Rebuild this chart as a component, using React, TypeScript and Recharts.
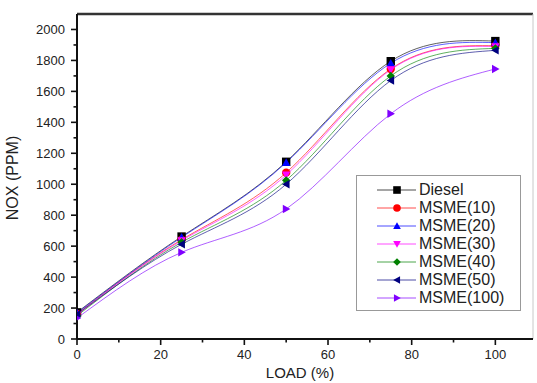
import React from "react";
import { LineChart, Line, XAxis, YAxis, ReferenceLine } from "recharts";

const loads = [0, 25, 50, 75, 100];
const diesel = [172, 662, 1145, 1795, 1925];
const msme10 = [162, 642, 1075, 1745, 1895];
const msme20 = [168, 657, 1140, 1782, 1915];
const msme30 = [156, 636, 1060, 1740, 1890];
const msme40 = [150, 625, 1025, 1700, 1878];
const msme50 = [160, 612, 1000, 1670, 1865];
const msme100 = [135, 560, 840, 1455, 1745];

const seriesNames = ["Diesel", "MSME(10)", "MSME(20)", "MSME(30)", "MSME(40)", "MSME(50)", "MSME(100)"];
const seriesValues = [diesel, msme10, msme20, msme30, msme40, msme50, msme100];
const seriesColors = ["#000000", "#FF0000", "#0000FF", "#FF00FF", "#008000", "#000080", "#8000FF"];
const seriesShapes = ["square", "circle", "up", "down", "diamond", "left", "right"];

const xTicks = [0, 10, 20, 30, 40, 50, 60, 70, 80, 90, 100];
const yTicks = [0, 100, 200, 300, 400, 500, 600, 700, 800, 900, 1000, 1100, 1200, 1300, 1400, 1500, 1600, 1700, 1800, 1900, 2000];

const data = loads.map((l, i) => {
  const row: any = { load: l };
  seriesNames.forEach((n, k) => {
    row[n] = seriesValues[k][i];
  });
  return row;
});

const FONT = "'Liberation Sans', Arial, sans-serif";

function Marker({ shape, cx, cy, color, s = 4.5 }: any) {
  switch (shape) {
    case "square":
      return <rect x={cx - s} y={cy - s} width={2 * s} height={2 * s} fill={color} />;
    case "circle":
      return <circle cx={cx} cy={cy} r={s} fill={color} />;
    case "up":
      return <polygon points={`${cx},${cy - s} ${cx + s},${cy + s * 0.8} ${cx - s},${cy + s * 0.8}`} fill={color} />;
    case "down":
      return <polygon points={`${cx},${cy + s} ${cx + s},${cy - s * 0.8} ${cx - s},${cy - s * 0.8}`} fill={color} />;
    case "diamond":
      return <polygon points={`${cx},${cy - s} ${cx + s},${cy} ${cx},${cy + s} ${cx - s},${cy}`} fill={color} />;
    case "left":
      return <polygon points={`${cx - s},${cy} ${cx + s * 0.8},${cy - s} ${cx + s * 0.8},${cy + s}`} fill={color} />;
    case "right":
      return <polygon points={`${cx + s},${cy} ${cx - s * 0.8},${cy - s} ${cx - s * 0.8},${cy + s}`} fill={color} />;
    default:
      return null;
  }
}

const XTick = (props: any) => {
  const { x, y, payload } = props;
  const major = payload.value % 20 === 0;
  return (
    <g>
      <line x1={x} x2={x} y1={y} y2={y + (major ? 6 : 3.5)} stroke="#111" strokeWidth={1.6} />
      {major && (
        <text x={x} y={y + 20} textAnchor="middle" fontSize={13} fontFamily={FONT} fill="#222">
          {payload.value}
        </text>
      )}
    </g>
  );
};

const YTick = (props: any) => {
  const { x, y, payload } = props;
  const major = payload.value % 200 === 0;
  return (
    <g>
      <line x1={x} x2={x - (major ? 6 : 3.5)} y1={y} y2={y} stroke="#111" strokeWidth={1.6} />
      {major && (
        <text x={x - 12} y={y + 4.5} textAnchor="end" fontSize={13} fontFamily={FONT} fill="#222">
          {payload.value}
        </text>
      )}
    </g>
  );
};

export default function App() {
  return (
    <div style={{ position: "absolute", left: 0, top: 0, width: 537, height: 383, background: "#fff" }}>
      <LineChart width={537} height={383} data={data} margin={{ top: 14, right: 4, bottom: 0, left: 0 }}>
        <XAxis
          dataKey="load"
          type="number"
          domain={[0, 109]}
          ticks={xTicks}
          interval={0}
          tickSize={0}
          tickMargin={0}
          tickLine={false}
          tick={<XTick />}
          axisLine={{ stroke: "#111", strokeWidth: 2 }}
          height={44}
          allowDataOverflow
        />
        <YAxis
          type="number"
          domain={[0, 2100]}
          ticks={yTicks}
          interval={0}
          tickSize={0}
          tickMargin={0}
          tickLine={false}
          tick={<YTick />}
          axisLine={{ stroke: "#111", strokeWidth: 2 }}
          width={77}
          allowDataOverflow
        />
        <ReferenceLine y={2100} stroke="#333" strokeWidth={2.5} />
        <ReferenceLine x={109} stroke="#c8c8c8" strokeWidth={1} />
        {seriesNames.map((n, k) => (
          <Line
            key={n}
            type="natural"
            dataKey={n}
            stroke={seriesColors[k]}
            strokeWidth={0.9}
            strokeOpacity={0.7}
            isAnimationActive={false}
            dot={(p: any) => (
              <Marker key={`${n}-${p.index}`} shape={seriesShapes[k]} cx={p.cx} cy={p.cy} color={seriesColors[k]} s={4.2} />
            )}
            activeDot={false}
          />
        ))}
        <text x={300} y={378} textAnchor="middle" fontSize={15} fontFamily={FONT} fill="#222">
          LOAD (%)
        </text>
        <text
          x={18}
          y={178}
          textAnchor="middle"
          fontSize={16}
          fontFamily={FONT}
          fill="#222"
          transform="rotate(-90 18 178)"
        >
          NOX (PPM)
        </text>
      </LineChart>
      <div
        style={{
          position: "absolute",
          left: 356,
          top: 175,
          width: 165,
          height: 136,
          boxSizing: "border-box",
          border: "1px solid #999",
          background: "#fff",
          paddingTop: 5,
        }}
      >
        {seriesNames.map((n, k) => (
          <div key={n} style={{ display: "flex", alignItems: "center", height: 18 }}>
            <svg width={62} height={18} style={{ display: "block" }}>
              <line x1={20} x2={59} y1={9} y2={9} stroke={seriesColors[k]} strokeWidth={1} strokeOpacity={0.7} />
              <Marker shape={seriesShapes[k]} cx={40} cy={9} color={seriesColors[k]} s={3.8} />
            </svg>
            <span style={{ fontFamily: FONT, fontSize: 16, color: "#222", lineHeight: "18px" }}>{n}</span>
          </div>
        ))}
      </div>
    </div>
  );
}
